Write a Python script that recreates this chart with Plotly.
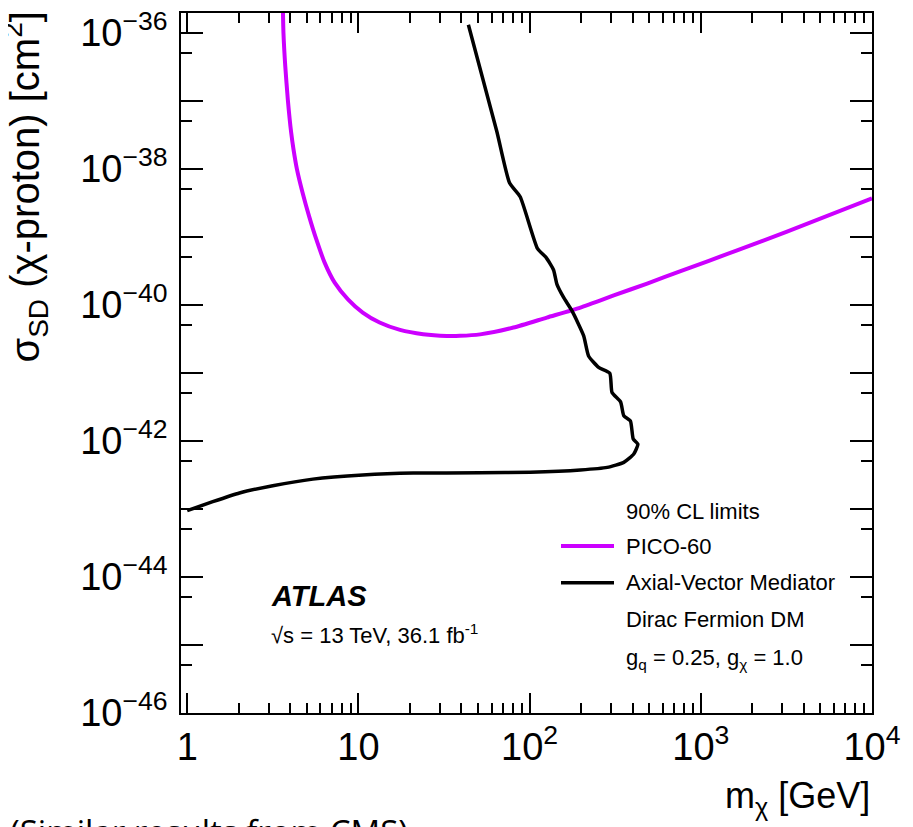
import numpy as np
import plotly.graph_objects as go

# ---------------- data ----------------
pico_mass = [3.61, 3.65, 3.74, 3.87, 4.05, 4.18, 4.38, 4.72, 5.15, 5.68, 6.35, 7.27, 8.69,
             10.6, 13.3, 17.5, 23.9, 32.8, 39.2, 51.4, 80.5, 126, 198, 310, 486, 762, 1585,
             3162, 10000]
pico_xsec = [3.8e-36, 1.0e-36, 3.23e-37, 1.05e-37, 3.40e-38, 1.93e-38, 9.8e-39, 4.48e-39,
             2.03e-39, 9.2e-40, 4.20e-40, 2.13e-40, 1.21e-40, 7.73e-41, 5.52e-41, 4.30e-41,
             3.72e-41, 3.51e-41, 3.52e-41, 3.70e-41, 4.66e-41, 6.53e-41, 9.16e-41, 1.38e-40,
             2.07e-40, 3.14e-40, 6.21e-40, 1.19e-39, 3.69e-39]

atlas_mass = [43.9, 64.3, 76.3, 88.1, 111.3, 125, 138, 144.5, 158, 177, 207, 221, 253, 294,
              303, 340, 355, 388, 403, 429, 406, 355, 284, 198, 101, 51.4, 20.9, 10.6,
              5.42, 3.16, 2.02, 1.41, 1.0]
atlas_xsec = [1.32e-36, 3.59e-38, 6.27e-39, 3.91e-39, 6.73e-40, 4.97e-40, 3.27e-40, 2.01e-40,
              1.29e-40, 8.17e-41, 3.51e-41, 1.78e-41, 1.21e-41, 9.93e-42, 5.17e-42, 3.77e-42,
              2.35e-42, 1.98e-42, 1.07e-42, 9.01e-43, 6.43e-43, 4.85e-43, 4.09e-43, 3.75e-43,
              3.48e-43, 3.40e-43, 3.38e-43, 3.16e-43, 2.75e-43, 2.20e-43, 1.72e-43, 1.28e-43,
              9.44e-44]

x_tick_vals = [1, 10, 100, 1000, 10000]
x_tick_text = ["1", "10", "10<sup>2</sup>", "10<sup>3</sup>", "10<sup>4</sup>"]
y_exponents = [-46, -45, -44, -43, -42, -41, -40, -39, -38, -37, -36]

# ---------------- style ----------------
MAGENTA = "#cc00ff"
BLACK = "#000000"
FONT = "Liberation Sans, Arial, Helvetica, sans-serif"
OFF = 8  # default page body margin
W, H = 913 - OFF, 827 - OFF
L, R, T, B = 181 - OFF, 41, 13 - OFF, 114
PW, PH = W - L - R, H - T - B


def px_x(p):
    return (p - OFF - L) / PW


def px_y(p):
    return (OFF + H - B - p) / PH


y_tick_vals = [10.0 ** e for e in y_exponents]
y_tick_text = ["10<sup>\u2212%d</sup>" % (-e) if e % 2 == 0 else "" for e in y_exponents]
y_minor = [5 * 10.0 ** e for e in y_exponents[:-1]]
x_minor = [k * 10.0 ** d for d in range(0, 4) for k in range(2, 10)]

fig = go.Figure()
fig.add_trace(go.Scatter(x=pico_mass, y=pico_xsec, mode="lines",
                         line=dict(color=MAGENTA, width=4, shape="spline", smoothing=0.6),
                         name="PICO-60"))
fig.add_trace(go.Scatter(x=atlas_mass, y=atlas_xsec, mode="lines",
                         line=dict(color=BLACK, width=3.5, shape="spline", smoothing=0.5),
                         name="Axial-Vector Mediator"))

axis_common = dict(showgrid=False, zeroline=False, showline=True, linecolor="black",
                   linewidth=1.5, mirror="ticks", ticks="inside", tickcolor="black",
                   tickwidth=1.5, automargin=False, ticklabeloverflow="allow",
                   tickfont=dict(family=FONT, size=38, color="black"))

fig.update_xaxes(type="log", range=[np.log10(0.92), 4.0], tickmode="array",
                 tickvals=x_tick_vals, ticktext=x_tick_text, ticklen=20,
                 minor=dict(tickmode="array", tickvals=x_minor, ticks="inside", ticklen=10,
                            tickwidth=1.5, tickcolor="black", showgrid=False),
                 **axis_common)
fig.update_yaxes(type="log", range=[-46, -35.706], tickmode="array",
                 tickvals=y_tick_vals, ticktext=y_tick_text, ticklen=22,
                 ticklabelstandoff=4,
                 minor=dict(tickmode="array", tickvals=y_minor, ticks="inside", ticklen=11,
                            tickwidth=1.5, tickcolor="black", showgrid=False),
                 **axis_common)

ann = []
# axis titles
ann.append(dict(text="m<sub>\u03c7</sub> [GeV]", x=px_x(872), y=px_y(798), xanchor="right",
                yanchor="middle", font=dict(family=FONT, size=36)))
ann.append(dict(text="\u03c3<sub>SD</sub> (\u03c7-proton) [cm<sup>2</sup>]", textangle=-90,
                x=px_x(25), y=px_y(10), xanchor="center", yanchor="top",
                font=dict(family=FONT, size=40)))
# ATLAS label
ann.append(dict(text="<b><i>ATLAS</i></b>", x=px_x(269), y=px_y(596), xanchor="left",
                yanchor="middle", font=dict(family=FONT, size=29)))
ann.append(dict(text="\u221as = 13 TeV, 36.1 fb<sup>-1</sup>", x=px_x(269), y=px_y(634),
                xanchor="left", yanchor="middle", font=dict(family=FONT, size=22)))
# legend
leg_x = px_x(624)
for txt, yy in [("90% CL limits", 511.7), ("PICO-60", 546), ("Axial-Vector Mediator", 582.7),
                ("Dirac Fermion DM", 619),
                ("g<sub>q</sub> = 0.25, g<sub>\u03c7</sub> = 1.0", 659)]:
    ann.append(dict(text=txt, x=leg_x, y=px_y(yy), xanchor="left", yanchor="middle",
                    font=dict(family=FONT, size=22)))
# cut-off footnote
ann.append(dict(text="(Similar results from CMS)", x=px_x(OFF), y=px_y(807), xanchor="left",
                yanchor="top", font=dict(family="Open Sans", size=33)))

for a in ann:
    a.update(xref="paper", yref="paper", showarrow=False)
    a.setdefault("font", {}).setdefault("color", "black")

shapes = [
    dict(type="line", xref="paper", yref="paper", x0=px_x(561), x1=px_x(614),
         y0=px_y(546), y1=px_y(546), line=dict(color=MAGENTA, width=4)),
    dict(type="line", xref="paper", yref="paper", x0=px_x(561), x1=px_x(614),
         y0=px_y(582.7), y1=px_y(582.7), line=dict(color=BLACK, width=3.5)),
]

fig.update_layout(width=W, height=H, margin=dict(l=L, r=R, t=T, b=B, pad=0),
                  plot_bgcolor="white", paper_bgcolor="white", showlegend=False,
                  font=dict(family=FONT, color="black"), annotations=ann, shapes=shapes)

fig.write_html("out.html")
